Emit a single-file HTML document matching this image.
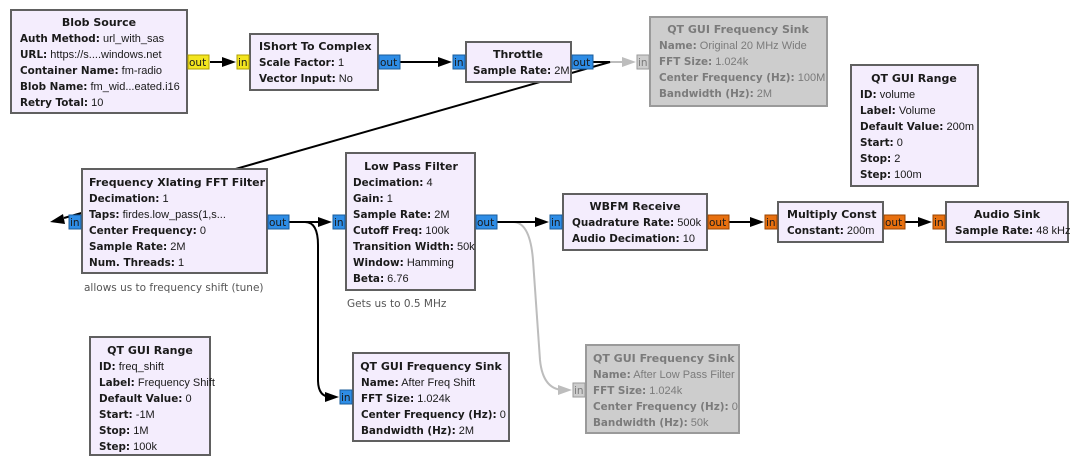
<!DOCTYPE html>
<html><head><meta charset="utf-8"><style>
html,body{margin:0;padding:0;background:#fff;width:1081px;height:468px;overflow:hidden}
text{font-family:"Liberation Sans",sans-serif;font-size:11px;fill:#1a1a1a}
.b{font-family:"DejaVu Sans",sans-serif;font-weight:bold;font-size:10.4px}
.t{font-family:"DejaVu Sans",sans-serif;font-weight:bold;font-size:11px}
.p{font-family:"DejaVu Sans",sans-serif;font-size:10.5px}
.g text{fill:#7b7b7b}
.box{fill:#f4edfd;stroke:#606060;stroke-width:2}
.gbox{fill:#cdcdcd;stroke:#9a9a9a;stroke-width:2}
.pb{fill:#2e8de6;stroke:#1b5c9a;stroke-width:1}
.py{fill:#f3e51f;stroke:#b0a000;stroke-width:1}
.po{fill:#e8700f;stroke:#9a4400;stroke-width:1}
.pg{fill:#cdcdcd;stroke:#9a9a9a;stroke-width:1}
.ln{stroke:#000;stroke-width:2;fill:none}
.lg{stroke:#bdbdbd;stroke-width:2;fill:none}
.ann{fill:#555;font-family:"DejaVu Sans",sans-serif;font-size:10.5px}
</style></head><body>
<svg width="1081" height="468" xmlns="http://www.w3.org/2000/svg">
<path class="ln" d="M210 62H228"/><polygon points="236,62 222,57 222,67" fill="#000"/>
<path class="ln" d="M400 62H444"/><polygon points="452,62 438,57 438,67" fill="#000"/>
<path class="lg" d="M593 62H628"/><polygon points="636,62 622,57 622,67" fill="#bdbdbd"/>
<path class="ln" d="M593 62H610L64 218"/><polygon points="50,222 63,214 65,224" fill="#000"/>
<path class="ln" d="M289 222H324"/><polygon points="332,222 318,217 318,227" fill="#000"/>
<path class="ln" d="M289 222H305Q318 222 318 245V380Q318 397 331 397"/><polygon points="339,397 325,392 325,402" fill="#000"/>
<path class="lg" d="M497 222H513Q530 222 533 260L540 360Q543 390 564 390"/><polygon points="572,390 558,385 558,395" fill="#bdbdbd"/>
<path class="ln" d="M497 222H541"/><polygon points="549,222 535,217 535,227" fill="#000"/>
<path class="ln" d="M729 222H756"/><polygon points="764,222 750,217 750,227" fill="#000"/>
<path class="ln" d="M905 222H924"/><polygon points="932,222 918,217 918,227" fill="#000"/>

<rect class="box" x="11" y="10" width="176" height="103"/>
<text class="t" x="99" y="26" text-anchor="middle">Blob Source</text>
<text x="20" y="42"><tspan class="b">Auth Method:</tspan> url_with_sas</text>
<text x="20" y="58"><tspan class="b">URL:</tspan> https://s....windows.net</text>
<text x="20" y="74"><tspan class="b">Container Name:</tspan> fm-radio</text>
<text x="20" y="90"><tspan class="b">Blob Name:</tspan> fm_wid...eated.i16</text>
<text x="20" y="106"><tspan class="b">Retry Total:</tspan> 10</text>
<rect class="py" x="188" y="55" width="21" height="14"/><text class="p" x="189" y="66">out</text>

<rect class="box" x="250" y="34" width="128" height="56"/>
<text class="t" x="259" y="50">IShort To Complex</text>
<text x="259" y="66"><tspan class="b">Scale Factor:</tspan> 1</text>
<text x="259" y="82"><tspan class="b">Vector Input:</tspan> No</text>
<rect class="py" x="237" y="55" width="12" height="14"/><text class="p" x="238" y="66">in</text>
<rect class="pb" x="379" y="55" width="21" height="14"/><text class="p" x="380" y="66">out</text>

<rect class="box" x="466" y="42" width="105" height="40"/>
<text class="t" x="518" y="58" text-anchor="middle">Throttle</text>
<text x="473" y="74"><tspan class="b">Sample Rate:</tspan> 2M</text>
<rect class="pb" x="453" y="55" width="12" height="14"/><text class="p" x="454" y="66">in</text>
<rect class="pb" x="572" y="55" width="21" height="14"/><text class="p" x="573" y="66">out</text>

<g class="g">
<rect class="gbox" x="650" y="17" width="177" height="89"/>
<text class="t" x="738" y="33" text-anchor="middle">QT GUI Frequency Sink</text>
<text x="659" y="49"><tspan class="b">Name:</tspan> Original 20 MHz Wide</text>
<text x="659" y="65"><tspan class="b">FFT Size:</tspan> 1.024k</text>
<text x="659" y="81"><tspan class="b">Center Frequency (Hz):</tspan> 100M</text>
<text x="659" y="97"><tspan class="b">Bandwidth (Hz):</tspan> 2M</text>
<rect class="pg" x="637" y="55" width="12" height="14"/><text class="p" x="638" y="66">in</text>
</g>

<rect class="box" x="851" y="65" width="127" height="121"/>
<text class="t" x="914" y="82" text-anchor="middle">QT GUI Range</text>
<text x="860" y="98"><tspan class="b">ID:</tspan> volume</text>
<text x="860" y="114"><tspan class="b">Label:</tspan> Volume</text>
<text x="860" y="130"><tspan class="b">Default Value:</tspan> 200m</text>
<text x="860" y="146"><tspan class="b">Start:</tspan> 0</text>
<text x="860" y="162"><tspan class="b">Stop:</tspan> 2</text>
<text x="860" y="178"><tspan class="b">Step:</tspan> 100m</text>

<rect class="box" x="82" y="169" width="185" height="104"/>
<text class="t" x="89" y="186">Frequency Xlating FFT Filter</text>
<text x="89" y="202"><tspan class="b">Decimation:</tspan> 1</text>
<text x="89" y="218"><tspan class="b">Taps:</tspan>  firdes.low_pass(1,s...</text>
<text x="89" y="234"><tspan class="b">Center Frequency:</tspan> 0</text>
<text x="89" y="250"><tspan class="b">Sample Rate:</tspan> 2M</text>
<text x="89" y="266"><tspan class="b">Num. Threads:</tspan> 1</text>
<rect class="pb" x="69" y="215" width="12" height="14"/><text class="p" x="70" y="226">in</text>
<rect class="pb" x="268" y="215" width="21" height="14"/><text class="p" x="269" y="226">out</text>
<text class="ann" x="84" y="291">allows us to frequency shift (tune)</text>

<rect class="box" x="346" y="153" width="129" height="137"/>
<text class="t" x="411" y="170" text-anchor="middle">Low Pass Filter</text>
<text x="353" y="186"><tspan class="b">Decimation:</tspan> 4</text>
<text x="353" y="202"><tspan class="b">Gain:</tspan> 1</text>
<text x="353" y="218"><tspan class="b">Sample Rate:</tspan> 2M</text>
<text x="353" y="234"><tspan class="b">Cutoff Freq:</tspan> 100k</text>
<text x="353" y="250"><tspan class="b">Transition Width:</tspan> 50k</text>
<text x="353" y="266"><tspan class="b">Window:</tspan> Hamming</text>
<text x="353" y="282"><tspan class="b">Beta:</tspan> 6.76</text>
<rect class="pb" x="333" y="215" width="12" height="14"/><text class="p" x="334" y="226">in</text>
<rect class="pb" x="476" y="215" width="21" height="14"/><text class="p" x="477" y="226">out</text>
<text class="ann" x="347" y="307">Gets us to 0.5 MHz</text>

<rect class="box" x="563" y="194" width="144" height="56"/>
<text class="t" x="635" y="210" text-anchor="middle">WBFM Receive</text>
<text x="572" y="226"><tspan class="b">Quadrature Rate:</tspan> 500k</text>
<text x="572" y="242"><tspan class="b">Audio Decimation:</tspan> 10</text>
<rect class="pb" x="550" y="215" width="12" height="14"/><text class="p" x="551" y="226">in</text>
<rect class="po" x="708" y="215" width="21" height="14"/><text class="p" x="709" y="226">out</text>

<rect class="box" x="778" y="202" width="105" height="40"/>
<text class="t" x="787" y="218">Multiply Const</text>
<text x="787" y="234"><tspan class="b">Constant:</tspan> 200m</text>
<rect class="po" x="765" y="215" width="12" height="14"/><text class="p" x="766" y="226">in</text>
<rect class="po" x="884" y="215" width="21" height="14"/><text class="p" x="885" y="226">out</text>

<rect class="box" x="946" y="202" width="122" height="40"/>
<text class="t" x="1007" y="218" text-anchor="middle">Audio Sink</text>
<text x="955" y="234"><tspan class="b">Sample Rate:</tspan> 48 kHz</text>
<rect class="po" x="933" y="215" width="12" height="14"/><text class="p" x="934" y="226">in</text>

<rect class="box" x="90" y="337" width="120" height="118"/>
<text class="t" x="150" y="354" text-anchor="middle">QT GUI Range</text>
<text x="99" y="370"><tspan class="b">ID:</tspan> freq_shift</text>
<text x="99" y="386"><tspan class="b">Label:</tspan> Frequency Shift</text>
<text x="99" y="402"><tspan class="b">Default Value:</tspan> 0</text>
<text x="99" y="418"><tspan class="b">Start:</tspan> -1M</text>
<text x="99" y="434"><tspan class="b">Stop:</tspan> 1M</text>
<text x="99" y="450"><tspan class="b">Step:</tspan> 100k</text>

<rect class="box" x="353" y="353" width="156" height="88"/>
<text class="t" x="431" y="370" text-anchor="middle">QT GUI Frequency Sink</text>
<text x="361" y="386"><tspan class="b">Name:</tspan> After Freq Shift</text>
<text x="361" y="402"><tspan class="b">FFT Size:</tspan> 1.024k</text>
<text x="361" y="418"><tspan class="b">Center Frequency (Hz):</tspan> 0</text>
<text x="361" y="434"><tspan class="b">Bandwidth (Hz):</tspan> 2M</text>
<rect class="pb" x="340" y="390" width="12" height="14"/><text class="p" x="341" y="401">in</text>

<g class="g">
<rect class="gbox" x="586" y="345" width="153" height="88"/>
<text class="t" x="593" y="362">QT GUI Frequency Sink</text>
<text x="593" y="378"><tspan class="b">Name:</tspan> After Low Pass Filter</text>
<text x="593" y="394"><tspan class="b">FFT Size:</tspan> 1.024k</text>
<text x="593" y="410"><tspan class="b">Center Frequency (Hz):</tspan> 0</text>
<text x="593" y="426"><tspan class="b">Bandwidth (Hz):</tspan> 50k</text>
<rect class="pg" x="573" y="383" width="12" height="14"/><text class="p" x="574" y="394">in</text>
</g>
</svg>
</body></html>
